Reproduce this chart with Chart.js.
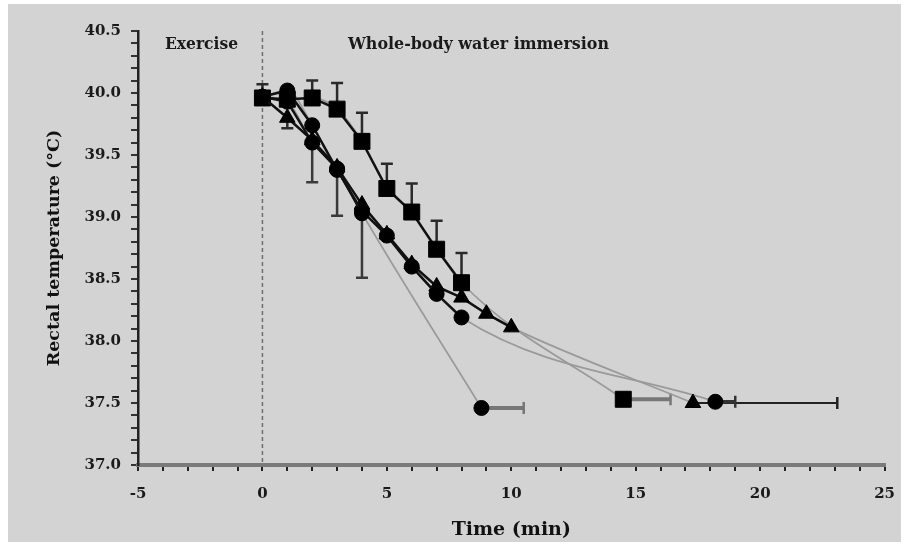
<!DOCTYPE html>
<html>
<head>
<meta charset="utf-8">
<script src="https://cdn.jsdelivr.net/npm/chart.js@4.4.1/dist/chart.umd.min.js"></script>
<style>
  html, body { margin: 0; padding: 0; background: #fff; }
</style>
</head>
<body>
<canvas id="chart" width="909" height="546"></canvas>
<script>
// time (min) and rectal temperature (°C) for each group
const timeSquare = [0, 1, 2, 3, 4, 5, 6, 7, 8, 14.5];
const tempSquare = [39.96, 39.95, 39.96, 39.87, 39.61, 39.23, 39.04, 38.74, 38.47, 37.53];
const errSquareUp = [0.11, 0, 0.14, 0.21, 0.23, 0.2, 0.23, 0.23, 0.24, 0];
const endErrSquare = 1.9;

const timeTriangle = [0, 1, 2, 3, 4, 5, 6, 7, 8, 9, 10, 17.3];
const tempTriangle = [39.97, 39.8, 39.62, 39.4, 39.1, 38.86, 38.62, 38.44, 38.35, 38.22, 38.11, 37.5];
const errTriangleDown = [0, 0.085, 0, 0, 0, 0, 0, 0, 0, 0, 0, 0];
const endErrTriangle = 5.8;

const timeCircleA = [0, 1, 2, 3, 4, 5, 6, 7, 8, 18.2];
const tempCircleA = [39.97, 40.02, 39.74, 39.38, 39.05, 38.85, 38.6, 38.38, 38.19, 37.51];
const endErrCircleA = 0.8;

const timeCircleB = [0, 1, 2, 3, 4, 8.8];
const tempCircleB = [39.97, 39.93, 39.6, 39.39, 39.03, 37.46];
const errCircleBDown = [0, 0, 0.32, 0.38, 0.52, 0];
const endErrCircleB = 1.7;

// axis ranges
const xRange = [-5, 25];
const yRange = [37, 40.5];
const xLabelEvery = 5;
const yLabelEvery = 0.5;

const toPoints = (t, v) => t.map((tt, i) => ({ x: tt, y: v[i] }));

const FONT = "'DejaVu Serif', 'Liberation Serif', serif";

// one gray smooth curve and one black marker line per group
function makeSeries(t, v, style, radius) {
  const pts = toPoints(t, v);
  const last = pts.length - 1;
  return [
    {
      data: pts,
      showLine: true,
      borderColor: "#9a9a9a",
      borderWidth: 1.7,
      cubicInterpolationMode: "monotone",
      pointRadius: 0,
      order: 3,
    },
    {
      data: pts,
      showLine: true,
      borderColor: "#111",
      borderWidth: 2.5,
      tension: 0,
      pointStyle: style,
      pointRadius: radius,
      backgroundColor: "#000",
      pointBorderColor: "#000",
      pointBorderWidth: 1,
      segment: {
        borderColor: (ctx) => (ctx.p1DataIndex === last ? "rgba(0,0,0,0)" : undefined),
      },
      order: 1,
    },
  ];
}

const background = {
  id: "background",
  beforeDraw(chart) {
    const ctx = chart.ctx;
    ctx.save();
    ctx.fillStyle = "#fff";
    ctx.fillRect(0, 0, chart.width, chart.height);
    ctx.fillStyle = "#d3d3d3";
    ctx.fillRect(8, 4, chart.width - 16, chart.height - 8);
    ctx.restore();
  },
};

function drawFitted(ctx, text, left, midY, width) {
  const w = ctx.measureText(text).width;
  ctx.save();
  ctx.translate(left, midY);
  ctx.scale(width / w, 1);
  ctx.fillText(text, 0, 0);
  ctx.restore();
}

const annotations = {
  id: "annotations",
  beforeDatasetsDraw(chart) {
    const { ctx, chartArea, scales } = chart;
    const x0 = scales.x.getPixelForValue(0);
    ctx.save();
    // dashed line where exercise stops
    ctx.strokeStyle = "#6e6e6e";
    ctx.lineWidth = 1.5;
    ctx.setLineDash([4, 3]);
    ctx.beginPath();
    ctx.moveTo(x0, chartArea.top);
    ctx.lineTo(x0, chartArea.bottom);
    ctx.stroke();
    ctx.setLineDash([]);

    ctx.fillStyle = "#1a1a1a";
    ctx.font = "bold 16px " + FONT;
    ctx.textBaseline = "middle";
    drawFitted(ctx, "Exercise", chartArea.left + 27, chartArea.top + 14, 73);
    drawFitted(ctx, "Whole-body water immersion", chartArea.left + 210, chartArea.top + 14, 261);
    ctx.restore();
  },
};

const errorBars = {
  id: "errorBars",
  beforeDatasetsDraw(chart) {
    const { ctx, scales } = chart;
    const { x, y } = scales;
    const cap = 6;
    ctx.save();

    const vertical = [
      { t: timeSquare, v: tempSquare, e: errSquareUp, dir: 1, color: "#2a2a2a" },
      { t: timeTriangle, v: tempTriangle, e: errTriangleDown, dir: -1, color: "#2a2a2a" },
      { t: timeCircleB, v: tempCircleB, e: errCircleBDown, dir: -1, color: "#3a3a3a" },
    ];
    vertical.forEach((s) => {
      ctx.strokeStyle = s.color;
      ctx.lineWidth = 2.5;
      s.e.forEach((e, i) => {
        if (!e) return;
        const px = x.getPixelForValue(s.t[i]);
        const p1 = y.getPixelForValue(s.v[i]);
        const p2 = y.getPixelForValue(s.v[i] + s.dir * e);
        ctx.beginPath();
        ctx.moveTo(px, p1);
        ctx.lineTo(px, p2);
        ctx.moveTo(px - cap, p2);
        ctx.lineTo(px + cap, p2);
        ctx.stroke();
      });
    });

    // horizontal bars on the time to reach the end temperature
    const horizontal = [
      { t: timeSquare, v: tempSquare, e: endErrSquare, color: "#777", w: 4 },
      { t: timeTriangle, v: tempTriangle, e: endErrTriangle, color: "#222", w: 2 },
      { t: timeCircleA, v: tempCircleA, e: endErrCircleA, color: "#333", w: 3.5 },
      { t: timeCircleB, v: tempCircleB, e: endErrCircleB, color: "#777", w: 4 },
    ];
    horizontal.forEach((s) => {
      const i = s.t.length - 1;
      const p1 = x.getPixelForValue(s.t[i]);
      const p2 = x.getPixelForValue(s.t[i] + s.e);
      const py = y.getPixelForValue(s.v[i]);
      ctx.strokeStyle = s.color;
      ctx.lineWidth = s.w;
      ctx.beginPath();
      ctx.moveTo(p1, py);
      ctx.lineTo(p2, py);
      ctx.stroke();
      ctx.lineWidth = 2.5;
      ctx.beginPath();
      ctx.moveTo(p2, py - cap);
      ctx.lineTo(p2, py + cap);
      ctx.stroke();
    });
    ctx.restore();
  },
};

const ctx = document.getElementById("chart").getContext("2d");
const chart = new Chart(ctx, {
  type: "scatter",
  data: {
    datasets: [
      ...makeSeries(timeCircleB, tempCircleB, "circle", 7.5),
      ...makeSeries(timeCircleA, tempCircleA, "circle", 7.5),
      ...makeSeries(timeTriangle, tempTriangle, "triangle", 9),
      ...makeSeries(timeSquare, tempSquare, "rect", 11.3),
    ],
  },
  options: {
    responsive: false,
    animation: false,
    layout: { padding: { left: 0, top: 31, right: 20, bottom: 0 } },
    plugins: {
      legend: { display: false },
      tooltip: { enabled: false },
    },
    scales: {
      x: {
        type: "linear",
        min: xRange[0],
        max: xRange[1],
        afterFit: (s) => { s.height = 81; },
        border: { display: true, color: "#7a7a7a", width: 4 },
        grid: { drawOnChartArea: false, drawTicks: true, tickLength: 6, color: "#222", lineWidth: 2 },
        ticks: {
          stepSize: 1,
          autoSkip: false,
          maxRotation: 0,
          padding: 14,
          color: "#1a1a1a",
          font: { family: FONT, size: 15, weight: "bold" },
          callback: (v) => (v % xLabelEvery === 0 ? String(v) : ""),
        },
        title: {
          display: true,
          text: "Time (min)",
          color: "#111",
          font: { family: FONT, size: 19, weight: "bold" },
          padding: { top: 0, bottom: 5 },
        },
      },
      y: {
        type: "linear",
        min: yRange[0],
        max: yRange[1],
        afterFit: (s) => { s.width = 138; },
        border: { display: true, color: "#222", width: 2.5 },
        grid: { drawOnChartArea: false, drawTicks: true, tickLength: 7, color: "#333", lineWidth: 2 },
        ticks: {
          stepSize: 0.1,
          autoSkip: false,
          padding: 10,
          color: "#1a1a1a",
          font: { family: FONT, size: 15, weight: "bold" },
          callback: (v) => {
            const k = Math.round(v * 10);
            return k % Math.round(yLabelEvery * 10) === 0 ? (k / 10).toFixed(1) : "";
          },
        },
        title: {
          display: true,
          text: "Rectal temperature (°C)",
          color: "#111",
          font: { family: FONT, size: 17.5, weight: "bold" },
          padding: { top: 44, bottom: 0 },
        },
      },
    },
  },
  plugins: [background, annotations, errorBars],
});
</script>
</body>
</html>
